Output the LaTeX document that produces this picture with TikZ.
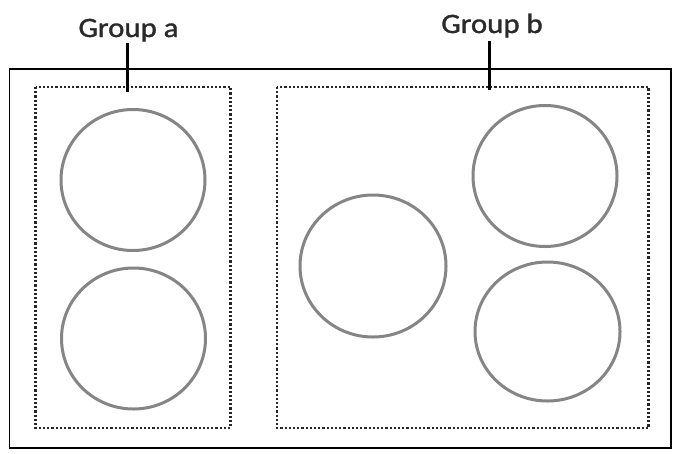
\documentclass[tikz,border=0pt]{standalone}
\usepackage{fontspec}
\setmainfont{Carlito}
\newfontfamily\labelfont[FakeBold=1.2]{Carlito}
\usetikzlibrary{shapes.geometric}
\definecolor{ringgray}{HTML}{858585}
\definecolor{textdark}{HTML}{2A2A2A}
\begin{document}
\begin{tikzpicture}[x=1pt,y=-1pt,
  outerbox/.style={draw=black,line width=1.8pt},
  groupbox/.style={draw=black!85,line width=2.3pt,dash pattern=on 2.2pt off 2pt},
  ring/.style={draw=ringgray,line width=3pt,ellipse,minimum width=144pt,minimum height=141pt,inner sep=0pt},
  grouplabel/.style={font=\fontsize{28}{30}\labelfont,text=textdark,inner sep=0pt,xscale=1.1},
  pointer/.style={draw=black,line width=3pt}]
\useasboundingbox (0,0) rectangle (676,453);
\fill[white] (0,0) rectangle (676,453);
\draw[outerbox] (9.5,69) rectangle (671,448);
\draw[groupbox] (35.5,87) rectangle (230.5,428);
\draw[groupbox] (277,87) rectangle (648.5,428);
\node[ring] (a1) at (133,180) {};
\node[ring] (a2) at (133.5,338.5) {};
\node[ring,minimum width=146pt,minimum height=142pt] (b1) at (373,266) {};
\node[ring] (b2) at (545,176) {};
\node[ring,minimum width=145pt,minimum height=139pt] (b3) at (547.5,331.5) {};
\node[grouplabel,anchor=base] (la) at (128.5,37) {Group a};
\node[grouplabel,anchor=base] (lb) at (492,33) {Group b};
\coordinate (pa1) at (127,43);
\coordinate (pa2) at (127,92);
\coordinate (pb1) at (489,41);
\coordinate (pb2) at (489,90);
\draw[pointer] (pa1) -- (pa2);
\draw[pointer] (pb1) -- (pb2);
\end{tikzpicture}
\end{document}
